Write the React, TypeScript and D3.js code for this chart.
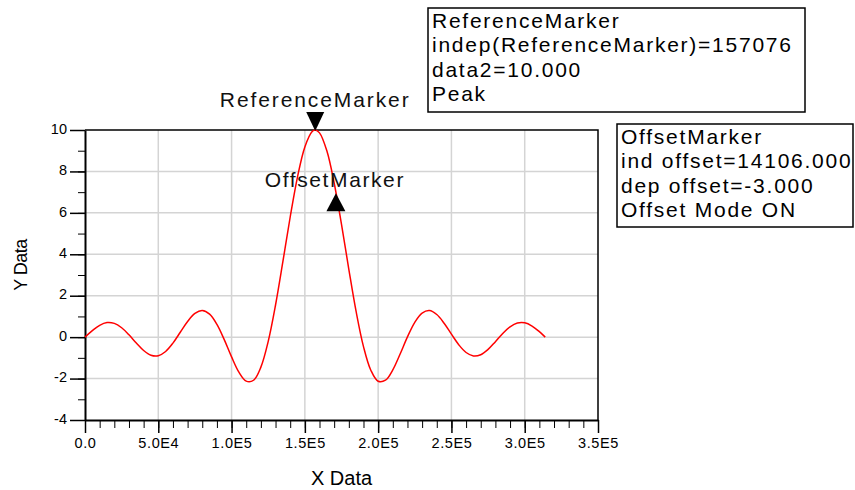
import React, { useEffect, useRef } from "react";
import * as d3 from "d3";

// curve samples (x in Hz-ish units, y in data units)
const xValues = [
  0, 5000, 10000, 15000, 20000, 25000, 30000, 35000, 40000, 45000, 50000,
  55000, 60000, 65000, 70000, 75000, 80000, 85000, 90000, 95000, 100000,
  105000, 110000, 115000, 120000, 125000, 130000, 135000, 140000, 145000,
  150000, 155000, 157076, 160000, 165000, 170000, 175000, 180000, 185000,
  190000, 195000, 200000, 205000, 210000, 215000, 220000, 225000, 230000,
  235000, 240000, 245000, 250000, 255000, 260000, 265000, 270000, 275000,
  280000, 285000, 290000, 295000, 300000, 305000, 310000, 314000,
];
const yValues = [
  0, 0.315, 0.572, 0.702, 0.663, 0.453, 0.111, -0.287, -0.646, -0.872, -0.896,
  -0.691, -0.288, 0.234, 0.754, 1.143, 1.284, 1.108, 0.614, -0.121, -0.953,
  -1.689, -2.124, -2.081, -1.447, -0.207, 1.552, 3.64, 5.8, 7.739,
  9.185, 9.928, 10, 9.86, 8.995, 7.441, 5.444, 3.277, 1.227,
  -0.455, -1.596, -2.127, -2.08, -1.581, -0.815, 0.014, 0.717, 1.16,
  1.281, 1.092, 0.673, 0.143, -0.367, -0.741, -0.907, -0.847, -0.593,
  -0.22, 0.175, 0.499, 0.682, 0.691, 0.536, 0.264, 0.0,
];

const xTicks = [0, 50000, 100000, 150000, 200000, 250000, 300000, 350000];
const xTickLabels = ["0.0", "5.0E4", "1.0E5", "1.5E5", "2.0E5", "2.5E5", "3.0E5", "3.5E5"];
const yTicks = [-4, -2, 0, 2, 4, 6, 8, 10];
const yTickLabels = ["-4", "-2", "0", "2", "4", "6", "8", "10"];

const refMarker = { name: "ReferenceMarker", x: 157076, y: 10 };
const offsetMarker = { name: "OffsetMarker", dx: 14106, dy: -3 };

const refBoxLines = [
  "ReferenceMarker",
  "indep(ReferenceMarker)=157076",
  "data2=10.000",
  "Peak",
];
const offsetBoxLines = [
  "OffsetMarker",
  "ind offset=14106.000",
  "dep offset=-3.000",
  "Offset Mode ON",
];

const FONT = "Arial, 'Liberation Sans', sans-serif";

export default function App() {
  const ref = useRef<SVGSVGElement>(null);

  useEffect(() => {
    draw();
  }, []);

  const draw = () => {
    const left = 85, right = 598, top = 130, bottom = 420;
    const svg = d3.select(ref.current);
    svg.selectAll("*").remove();

    const x = d3.scaleLinear().domain([0, 350000]).range([left, right]);
    const y = d3.scaleLinear().domain([-4, 10]).range([bottom, top]);

    // grid
    const grid = svg.append("g");
    grid
      .selectAll("line.gx")
      .data(xTicks.slice(1, -1))
      .enter()
      .append("line")
      .attr("x1", (d) => x(d))
      .attr("x2", (d) => x(d))
      .attr("y1", top)
      .attr("y2", bottom)
      .attr("stroke", "#d4d4d4")
      .attr("stroke-width", 1.5);
    grid
      .selectAll("line.gy")
      .data(yTicks.slice(1, -1))
      .enter()
      .append("line")
      .attr("x1", left)
      .attr("x2", right)
      .attr("y1", (d) => y(d))
      .attr("y2", (d) => y(d))
      .attr("stroke", "#d4d4d4")
      .attr("stroke-width", 1.5);

    // frame top/right
    svg
      .append("path")
      .attr("d", `M${left},${top}H${right}V${bottom}`)
      .attr("fill", "none")
      .attr("stroke", "#000")
      .attr("stroke-width", 1.5);

    // minor ticks
    const xMinor = d3.range(0, 350001, 10000);
    svg
      .append("g")
      .attr("transform", `translate(0,${bottom})`)
      .call(d3.axisBottom(x).tickValues(xMinor).tickSize(8).tickSizeOuter(0).tickFormat(() => ""))
      .call((g) => g.select(".domain").remove());
    const yMinor = d3.range(-4, 10.01, 1);
    svg
      .append("g")
      .attr("transform", `translate(${left},0)`)
      .call(d3.axisLeft(y).tickValues(yMinor).tickSize(7).tickSizeOuter(0).tickFormat(() => ""))
      .call((g) => g.select(".domain").remove());

    // major axes
    const xAxis = svg
      .append("g")
      .attr("transform", `translate(0,${bottom})`)
      .call(
        d3
          .axisBottom(x)
          .tickValues(xTicks)
          .tickSize(13)
          .tickSizeOuter(0)
          .tickFormat((d, i) => xTickLabels[i])
      );
    xAxis.select(".domain").attr("stroke-width", 2);
    xAxis.selectAll(".tick line").attr("stroke-width", 1.5);
    xAxis
      .selectAll("text")
      .attr("y", 28)
      .attr("dy", 0)
      .attr("font-family", FONT)
      .attr("font-size", 14.5)
      .attr("letter-spacing", 0.6)
      .attr("fill", "#000");

    const yAxis = svg
      .append("g")
      .attr("transform", `translate(${left},0)`)
      .call(
        d3
          .axisLeft(y)
          .tickValues(yTicks)
          .tickSize(15)
          .tickSizeOuter(0)
          .tickFormat((d, i) => yTickLabels[i])
      );
    yAxis.select(".domain").attr("stroke-width", 2);
    yAxis.selectAll(".tick line").attr("stroke-width", 1.5);
    yAxis
      .selectAll("text")
      .attr("x", -18)
      .attr("dy", "0.22em")
      .attr("font-family", FONT)
      .attr("font-size", 14.5)
      .attr("fill", "#000");

    // axis titles
    svg
      .append("text")
      .attr("x", (left + right) / 2)
      .attr("y", 485)
      .attr("text-anchor", "middle")
      .attr("font-family", FONT)
      .attr("font-size", 20)
      .text("X Data");
    svg
      .append("text")
      .attr("transform", `translate(27,${(top + bottom) / 2 - 10}) rotate(-90)`)
      .attr("text-anchor", "middle")
      .attr("font-family", FONT)
      .attr("font-size", 18)
      .attr("letter-spacing", -0.5)
      .text("Y Data");

    // the trace
    const pts = xValues.map((d, i) => [d, yValues[i]] as [number, number]);
    const line = d3
      .line<[number, number]>()
      .x((d) => x(d[0]))
      .y((d) => y(d[1]))
      .curve(d3.curveCatmullRom);
    svg
      .append("path")
      .attr("d", line(pts))
      .attr("fill", "none")
      .attr("stroke", "#ff0000")
      .attr("stroke-width", 1.5);

    // reference marker
    const rx = x(refMarker.x);
    const ry = y(refMarker.y);
    svg
      .append("path")
      .attr("d", `M${rx - 9},${ry - 18}L${rx + 9},${ry - 18}L${rx},${ry + 1}Z`)
      .attr("fill", "#000");
    svg
      .append("text")
      .attr("x", rx)
      .attr("y", 107)
      .attr("text-anchor", "middle")
      .attr("font-family", FONT)
      .attr("font-size", 21)
      .attr("letter-spacing", 1.9)
      .attr("fill", "#111")
      .text(refMarker.name);

    // offset marker
    const ox = x(refMarker.x + offsetMarker.dx);
    const oy = y(refMarker.y + offsetMarker.dy);
    svg
      .append("path")
      .attr("d", `M${ox},${oy + 1}L${ox + 9.5},${oy + 19}L${ox - 9.5},${oy + 19}Z`)
      .attr("fill", "#000");
    svg
      .append("text")
      .attr("x", ox - 1)
      .attr("y", 187)
      .attr("text-anchor", "middle")
      .attr("font-family", FONT)
      .attr("font-size", 21)
      .attr("letter-spacing", 1.6)
      .attr("fill", "#111")
      .text(offsetMarker.name);

    // readout boxes
    const box = (bx: number, by: number, bw: number, bh: number, lines: string[]) => {
      const g = svg.append("g");
      g.append("rect")
        .attr("x", bx)
        .attr("y", by)
        .attr("width", bw)
        .attr("height", bh)
        .attr("fill", "#fff")
        .attr("stroke", "#000")
        .attr("stroke-width", 1.5);
      g.selectAll("text")
        .data(lines)
        .enter()
        .append("text")
        .attr("x", bx + 4)
        .attr("y", (d, i) => by + 20 + i * 24.3)
        .attr("font-family", FONT)
        .attr("font-size", 21)
        .attr("letter-spacing", 1.75)
        .attr("fill", "#000")
        .text((d) => d);
    };
    box(428, 8, 377, 104, refBoxLines);
    box(617, 124, 236, 103, offsetBoxLines);
  };

  return (
    <svg
      ref={ref}
      width={855}
      height={490}
      style={{ position: "absolute", left: 0, top: 0, background: "#fff" }}
    />
  );
}
